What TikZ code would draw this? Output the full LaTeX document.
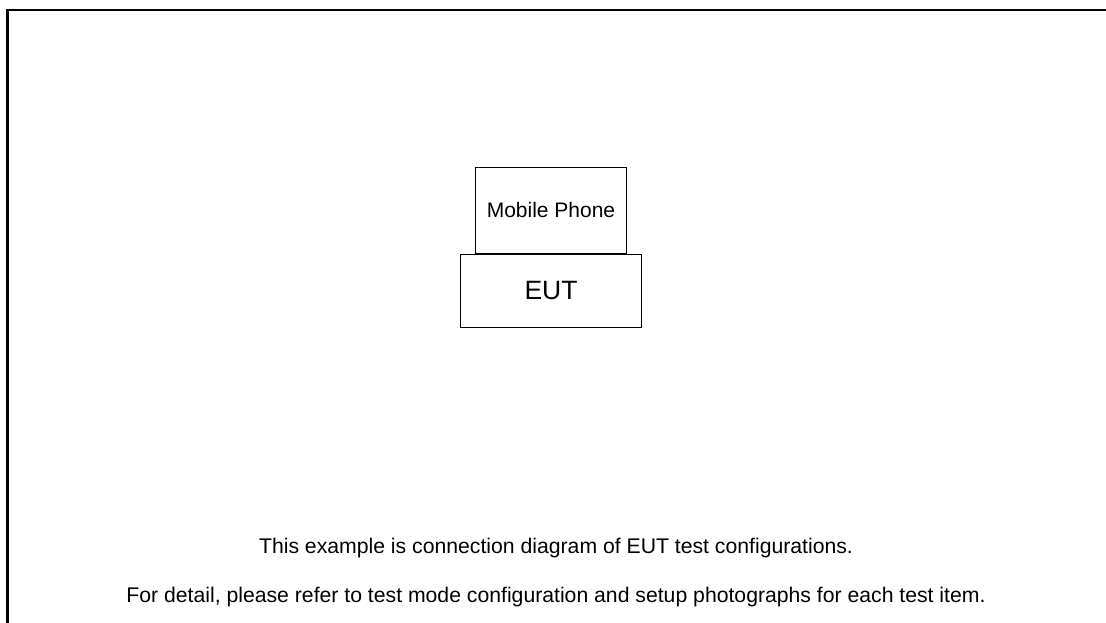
\documentclass[tikz,border=0pt]{standalone}
\usepackage{fontspec}
\setmainfont{Liberation Sans}
\usetikzlibrary{positioning}

\begin{document}
\begin{tikzpicture}[x=1pt, y=-1pt]
  \tikzstyle{box}=[rectangle, draw, line width=1pt, inner sep=0pt, font=\fontsize{21}{25}\selectfont]
  \tikzstyle{note}=[inner sep=0pt, anchor=base, font=\fontsize{21.2}{25}\selectfont]

  \useasboundingbox (0,0) rectangle (1106,623);
  \clip (0,0) rectangle (1106,623);

  % Marco
  \node[draw, line width=2.5pt, inner sep=0pt, minimum width=1110pt, minimum height=630pt, anchor=north west] (frame) at (6,9) {};

  % Equipos
  \node[box, minimum width=151pt, minimum height=86pt] (phone) at (551,210.3) {Mobile Phone};
  \node[box, minimum width=181pt, minimum height=73pt, below=0pt of phone, font=\fontsize{26.5}{30}\selectfont] (eut) {EUT};

  % Notas
  \node[note] (note1) at (556,553) {This example is connection diagram of EUT test configurations.};
  \node[note] (note2) at (556,602) {For detail, please refer to test mode configuration and setup photographs for each test item.};
\end{tikzpicture}
\end{document}
